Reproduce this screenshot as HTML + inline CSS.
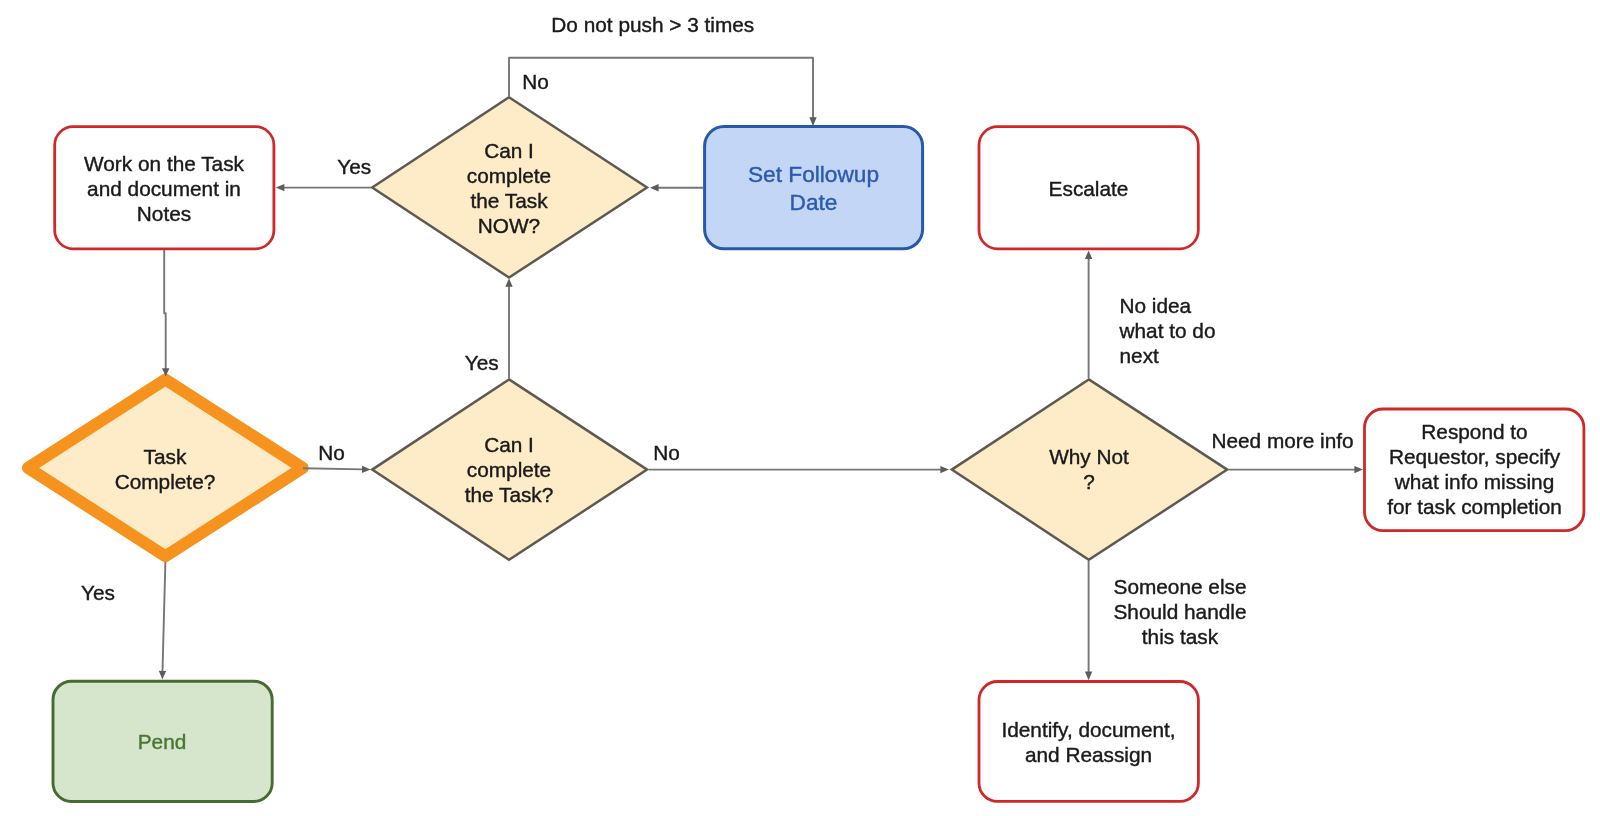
<!DOCTYPE html>
<html>
<head>
<meta charset="utf-8">
<title>Task Flowchart</title>
<style>
  html, body { margin: 0; padding: 0; background: #ffffff; }
  body { width: 1600px; height: 816px; overflow: hidden; font-family: "Liberation Sans", sans-serif; }
  svg { display: block; filter: blur(0.6px); }
  text { font-family: "Liberation Sans", sans-serif; font-size: 20.8px; color: #1a1a1a; fill: currentColor; stroke: currentColor; stroke-width: 0.4px; }
  .c { text-anchor: middle; }
  .ln { fill: none; stroke: #767676; stroke-width: 1.9; stroke-linejoin: round; }
  .ah { fill: #5c5c5c; stroke: none; }
  .dia { fill: #feecc8; stroke: #5e5a52; stroke-width: 2.5; stroke-linejoin: miter; }
  .red { fill: #ffffff; stroke: #d02828; stroke-width: 2.8; }
</style>
</head>
<body>
<svg width="1600" height="816" viewBox="0 0 1600 816">
  <rect x="0" y="0" width="1600" height="816" fill="#ffffff"/>

  <!-- rounded boxes -->
  <rect class="red" x="54.7" y="126.7" width="219.2" height="122.1" rx="18.5" ry="18.5"/>
  <rect x="704.6" y="126.6" width="218" height="122.2" rx="19.5" ry="19.5" fill="#c4d6f5" stroke="#2758aa" stroke-width="3"/>
  <rect class="red" x="979" y="126.7" width="219.3" height="122.1" rx="18.5" ry="18.5"/>
  <rect class="red" x="1364.5" y="409" width="219.4" height="121.6" rx="18.5" ry="18.5"/>
  <rect x="53" y="681.2" width="219.2" height="120.3" rx="18.5" ry="18.5" fill="#d6e6cd" stroke="#476b30" stroke-width="2.9"/>
  <rect class="red" x="979" y="681.5" width="219.4" height="119.9" rx="18.5" ry="18.5"/>

  <!-- diamonds -->
  <path class="dia" d="M509 97.2 L647 187.5 L509 277.6 L372.2 187.5 Z"/>
  <path class="dia" d="M509 379.4 L647.1 469.6 L509 559.8 L372.2 469.6 Z"/>
  <path class="dia" d="M1088.8 379.4 L1227.2 469.6 L1088.8 559.8 L951.8 469.6 Z"/>
  <path d="M165.4 379.5 L302.7 467.9 L165.4 556.2 L28 467.9 Z" fill="#feecc8" stroke="#f6921e" stroke-width="12" stroke-linejoin="round"/>

  <!-- connectors -->
  <g class="ln">
    <path d="M509 97 V57.8 H813 V118"/>
    <path d="M703.2 187.7 H658"/>
    <path d="M371 187.6 H284"/>
    <path d="M164.2 250 V313.2 H165.7 V369"/>
    <path d="M165.4 562 L162.5 671"/>
    <path d="M303 468.2 L363 469.4"/>
    <path d="M509 378 V286"/>
    <path d="M649 469.6 H941"/>
    <path d="M1088.6 378 V258"/>
    <path d="M1228.5 469.6 H1355"/>
    <path d="M1088.6 561 V672"/>
  </g>
  <!-- arrowheads -->
  <g class="ah">
    <path d="M813 126 l-3.7 -8.8 h7.4 z"/>
    <path d="M650 187.7 l8.6 -3.7 v7.4 z"/>
    <path d="M275.8 187.6 l8.6 -3.7 v7.4 z"/>
    <path d="M165.7 376.5 l-3.7 -8.3 h7.4 z"/>
    <path d="M162.3 679.6 l-3.5 -8.8 l7.4 0.19 z"/>
    <path d="M370.6 469.6 l-8.5 -3.9 l-0.15 7.4 z"/>
    <path d="M509 278.2 l-3.7 8.6 h7.4 z"/>
    <path d="M949 469.6 l-8.6 -3.7 v7.4 z"/>
    <path d="M1088.6 250.4 l-3.7 8.6 h7.4 z"/>
    <path d="M1363 469.6 l-8.6 -3.7 v7.4 z"/>
    <path d="M1088.6 680.2 l-3.7 -8.6 h7.4 z"/>
  </g>

  <!-- text -->
  <text class="c" x="652.8" y="32">Do not push &gt; 3 times</text>
  <text class="c" x="535.6" y="89">No</text>
  <text class="c" x="354.2" y="173.5">Yes</text>

  <text class="c" x="164" y="170.7">Work on the Task</text>
  <text class="c" x="164" y="195.6">and document in</text>
  <text class="c" x="164" y="220.6">Notes</text>

  <text class="c" x="509" y="158">Can I</text>
  <text class="c" x="509" y="183">complete</text>
  <text class="c" x="509" y="208">the Task</text>
  <text class="c" x="509" y="233">NOW?</text>

  <text class="c" x="813.5" y="182" style="font-size:22.7px;color:#2a5bb0">Set Followup</text>
  <text class="c" x="813.5" y="210" style="font-size:22.7px;color:#2a5bb0">Date</text>

  <text class="c" x="1088.5" y="196.3">Escalate</text>

  <text x="1119.5" y="312.5">No idea</text>
  <text x="1119.5" y="337.5">what to do</text>
  <text x="1119.5" y="362.5">next</text>

  <text class="c" x="481.7" y="370.4">Yes</text>
  <text class="c" x="331.5" y="460.4">No</text>

  <text class="c" x="509" y="452">Can I</text>
  <text class="c" x="509" y="477">complete</text>
  <text class="c" x="509" y="502">the Task?</text>

  <text class="c" x="666.5" y="460.4">No</text>

  <text class="c" x="165" y="463.8">Task</text>
  <text class="c" x="165" y="488.8">Complete?</text>

  <text class="c" x="98" y="600">Yes</text>
  <text class="c" x="162" y="749" style="color:#4a7630">Pend</text>

  <text class="c" x="1089" y="463.8">Why Not</text>
  <text class="c" x="1089" y="488.8">?</text>

  <text class="c" x="1282.5" y="447.5">Need more info</text>

  <text class="c" x="1474.5" y="438.8">Respond to</text>
  <text class="c" x="1474.5" y="463.8">Requestor, specify</text>
  <text class="c" x="1474.5" y="488.8">what info missing</text>
  <text class="c" x="1474.5" y="513.8">for task completion</text>

  <text class="c" x="1180" y="594">Someone else</text>
  <text class="c" x="1180" y="619">Should handle</text>
  <text class="c" x="1180" y="644">this task</text>

  <text class="c" x="1088.5" y="736.5">Identify, document,</text>
  <text class="c" x="1088.5" y="761.5">and Reassign</text>
</svg>
</body>
</html>
